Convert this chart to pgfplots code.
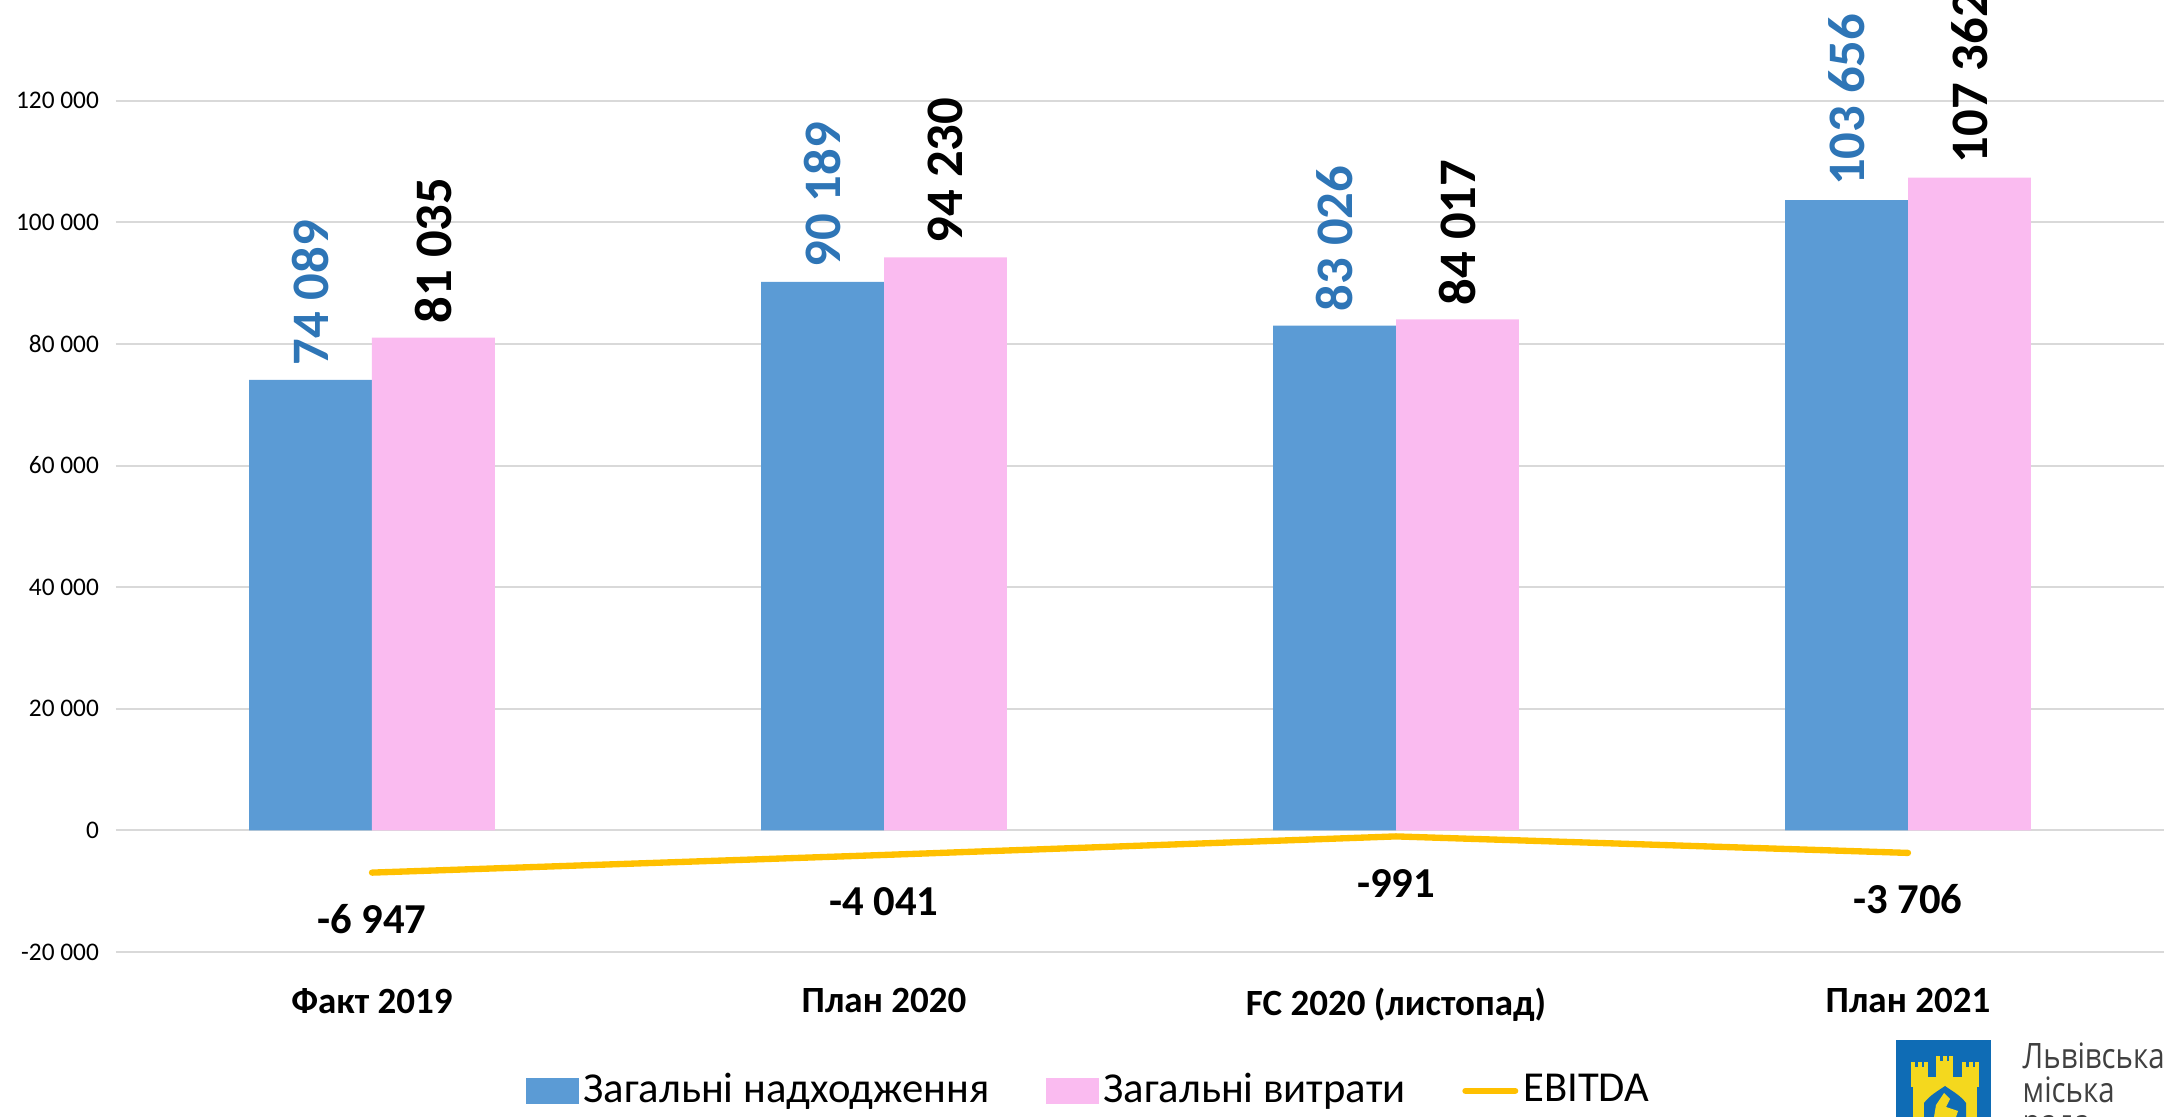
\documentclass[border=0pt]{standalone}
\usepackage{fontspec}
\setmainfont{Carlito}
\newfontfamily\logofont[FakeStretch=0.84]{Open Sans}
\usepackage{pgfplots}
\pgfplotsset{compat=1.18}
\definecolor{inBlue}{HTML}{5B9BD5}
\definecolor{inBlueText}{HTML}{2E75B6}
\definecolor{outPink}{HTML}{FABBF0}
\definecolor{ebitdaGold}{HTML}{FFC000}
\definecolor{gridGray}{HTML}{D9D9D9}
\definecolor{crestBlue}{HTML}{0F6CB5}
\definecolor{crestYellow}{HTML}{F4D81E}

\begin{document}
\begin{tikzpicture}[x=0.3pt,y=0.3pt]
\path[use as bounding box,clip] (0,0) rectangle (2164,1117);
\begin{axis}[
    at={(34.8pt,49.5pt)}, anchor=south west,
    scale only axis,
    width=614.4pt, height=255.4pt,
    ybar=0pt, bar width=36.84pt,
    xmin=-0.5, xmax=3.5,
    ymin=-20000, ymax=120000,
    scaled y ticks=false,
    xtick={0,1,2,3},
    xticklabels={Факт 2019, План 2020, FC 2020 (листопад), План 2021},
    xticklabel style={font=\bfseries\fontsize{11.1}{14}\selectfont, yshift=-7.4pt},
    ytick={-20000,0,20000,40000,60000,80000,100000,120000},
    yticklabels={-20 000,0,20 000,40 000,60 000,80 000,100 000,120 000},
    yticklabel style={font=\fontsize{7.6}{9}\selectfont, xshift=-1.6pt},
    major tick length=0pt,
    axis line style={draw=none},
    ymajorgrids,
    grid style={gridGray, line width=0.6pt},
    clip=false,
    point meta=explicit symbolic,
    legend columns=3,
    legend style={
        at={(0.4757,-0.163)}, anchor=center,
        draw=none, fill=none,
        font=\fontsize{12.8}{15}\selectfont,
        nodes={inner xsep=1.5pt},
        /tikz/every even column/.append style={column sep=15.5pt},
    },
]
  \addplot[ybar, fill=inBlue, draw=none,
    legend image code/.code={\fill[inBlue] (0pt,-3.95pt) rectangle (15.7pt,3.95pt);},
    nodes near coords,
    every node near coord/.append style={rotate=90, anchor=west, inner sep=3.4pt, xshift=0.7pt,
      text=inBlueText, font=\bfseries\fontsize{15.8}{18}\selectfont}]
    coordinates {(0,74089) [74 089] (1,90189) [90 189] (2,83026) [83 026] (3,103656) [103 656]};
  \addplot[ybar, fill=outPink, draw=none,
    legend image code/.code={\fill[outPink] (0pt,-3.95pt) rectangle (15.7pt,3.95pt);},
    nodes near coords,
    every node near coord/.append style={rotate=90, anchor=west, inner sep=3.4pt, xshift=0.7pt,
      text=black, font=\bfseries\fontsize{15.8}{18}\selectfont}]
    coordinates {(0,81035) [81 035] (1,94230) [94 230] (2,84017) [84 017] (3,107362) [107 362]};
  \addplot[sharp plot, ebitdaGold, line width=1.9pt, line cap=round,
    legend image code/.code={\draw[ebitdaGold, line width=1.9pt, line cap=round] (0.8pt,0pt) -- (15.7pt,0pt);},
    nodes near coords,
    every node near coord/.append style={anchor=center, yshift=-14pt,
      text=black, font=\bfseries\fontsize{12.8}{15}\selectfont}]
    coordinates {(0,-6947) [-6 947] (1,-4041) [-4 041] (2,-991) [-991] (3,-3706) [-3 706]};
  \legend{Загальні надходження, Загальні витрати, EBITDA}
\end{axis}
% logo of the city council, bottom right
\fill[crestBlue] (1896,0) rectangle (1991,77);
\fill[crestYellow] (1913,0) rectangle (1977,40);
\foreach \tx/\ty in {1911/50,1936/56,1962/50} {
  \fill[crestYellow] (\tx,30) rectangle ++(17,\ty-30);
  \foreach \k in {0,6.5,13} \fill[crestYellow] (\tx+\k,\ty) rectangle ++(4,5);
}
\fill[crestBlue] (1924,0) -- (1924,14) .. controls (1930,22) and (1938,26) .. (1945,31)
  .. controls (1952,26) and (1960,22) .. (1966,14) -- (1966,0) -- cycle;
\fill[crestYellow] (1934,0) -- (1936,12) -- (1944,24) -- (1950,18) -- (1946,10) -- (1958,6) -- (1956,0) -- cycle;
\node[anchor=base west, inner sep=0pt, font=\logofont\fontsize{10.5}{12}\selectfont, text=black!75] at (2022,48) {Львівська};
\node[anchor=base west, inner sep=0pt, font=\logofont\fontsize{10.5}{12}\selectfont, text=black!75] at (2022,14) {міська};
\node[anchor=base west, inner sep=0pt, font=\logofont\fontsize{10.5}{12}\selectfont, text=black!75] at (2022,-18) {рада};
\end{tikzpicture}
\end{document}
